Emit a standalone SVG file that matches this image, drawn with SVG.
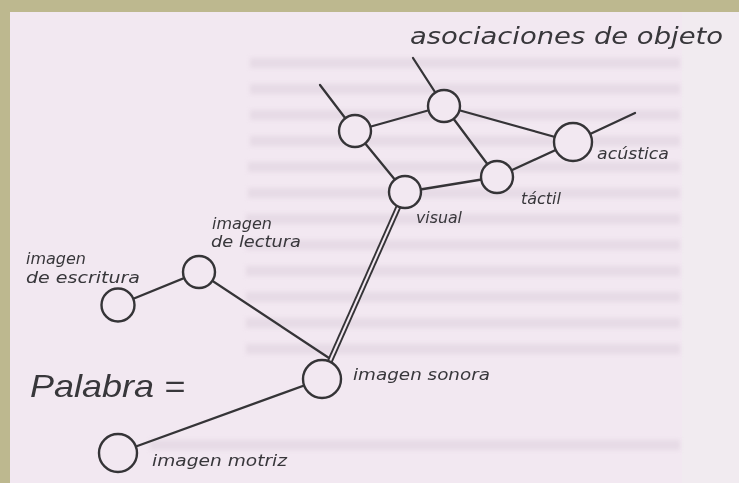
<svg xmlns="http://www.w3.org/2000/svg" width="739" height="483" viewBox="0 0 739 483">
<defs>
<style>
.edge{stroke:#353437;stroke-width:2.3;fill:none;stroke-linecap:round}
.node circle{fill:#f2e8f1;stroke:#353437;stroke-width:2.4}
.lbl{font-family:"DejaVu Sans","Liberation Sans",sans-serif;font-style:oblique;fill:#38373b;font-size:15px}
.band{fill:#d9cdd9;opacity:0.45}
</style>
<filter id="blur" x="-5%" y="-50%" width="110%" height="200%"><feGaussianBlur stdDeviation="2"/></filter>
</defs>
<rect x="0" y="0" width="739" height="483" fill="#bdb88f"/>
<rect x="10" y="12" width="729" height="471" fill="#f2e8f1"/>
<rect x="682" y="12" width="57" height="471" fill="#f1ebf0"/>
<g id="page-texture" filter="url(#blur)">
<rect class="band" x="250" y="58" width="430" height="10"/>
<rect class="band" x="250" y="84" width="430" height="10"/>
<rect class="band" x="250" y="110" width="430" height="10"/>
<rect class="band" x="250" y="136" width="430" height="10"/>
<rect class="band" x="248" y="162" width="432" height="10"/>
<rect class="band" x="248" y="188" width="432" height="10"/>
<rect class="band" x="246" y="214" width="434" height="10"/>
<rect class="band" x="246" y="240" width="434" height="10"/>
<rect class="band" x="246" y="266" width="434" height="10"/>
<rect class="band" x="246" y="292" width="434" height="10"/>
<rect class="band" x="246" y="318" width="434" height="10"/>
<rect class="band" x="246" y="344" width="434" height="10"/>
<rect class="band" x="150" y="440" width="530" height="10"/>
</g>
<g id="connectors">
<line class="edge" x1="320" y1="85" x2="355" y2="131"/>
<line class="edge" x1="413" y1="58" x2="444" y2="106"/>
<line class="edge" x1="635" y1="113" x2="573" y2="142"/>
<line class="edge" x1="355" y1="131" x2="444" y2="106"/>
<line class="edge" x1="355" y1="131" x2="405" y2="192"/>
<line class="edge" x1="444" y1="106" x2="497" y2="177"/>
<line class="edge" x1="444" y1="106" x2="573" y2="142"/>
<line class="edge" x1="405" y1="192" x2="497" y2="177"/>
<line class="edge" x1="497" y1="177" x2="573" y2="142"/>
<line x1="405" y1="192" x2="322" y2="379" stroke="#353437" stroke-width="5.8"/>
<line x1="405" y1="192" x2="322" y2="379" stroke="#f2e8f1" stroke-width="2"/>
<line class="edge" x1="199" y1="272" x2="329" y2="358"/>
<line class="edge" x1="118" y1="305" x2="199" y2="272"/>
<line class="edge" x1="322" y1="379" x2="118" y2="453"/>
</g>
<g id="node-objeto-1" class="node"><circle cx="355" cy="131" r="16"/></g>
<g id="node-objeto-2" class="node"><circle cx="444" cy="106" r="16"/></g>
<g id="node-visual" class="node"><circle cx="405" cy="192" r="16"/><text class="lbl" x="416" y="223" textLength="46" lengthAdjust="spacingAndGlyphs">visual</text></g>
<g id="node-tactil" class="node"><circle cx="497" cy="177" r="16"/><text class="lbl" x="521" y="204" textLength="40" lengthAdjust="spacingAndGlyphs">táctil</text></g>
<g id="node-acustica" class="node"><circle cx="573" cy="142" r="19"/><text class="lbl" x="597" y="159" textLength="72" lengthAdjust="spacingAndGlyphs">acústica</text></g>
<g id="node-lectura" class="node"><circle cx="199" cy="272" r="16"/><text class="lbl" x="212" y="229" textLength="60" lengthAdjust="spacingAndGlyphs">imagen</text><text class="lbl" x="211" y="247" textLength="90" lengthAdjust="spacingAndGlyphs">de lectura</text></g>
<g id="node-escritura" class="node"><circle cx="118" cy="305" r="16.5"/><text class="lbl" x="26" y="264" textLength="60" lengthAdjust="spacingAndGlyphs">imagen</text><text class="lbl" x="26" y="283" textLength="114" lengthAdjust="spacingAndGlyphs">de escritura</text></g>
<g id="node-sonora" class="node"><circle cx="322" cy="379" r="19"/><text class="lbl" x="353" y="380" textLength="137" lengthAdjust="spacingAndGlyphs">imagen sonora</text></g>
<g id="node-motriz" class="node"><circle cx="118" cy="453" r="19"/><text class="lbl" x="152" y="466" textLength="135" lengthAdjust="spacingAndGlyphs">imagen motriz</text></g>
<g id="title">
<text class="lbl" x="410" y="44" style="font-size:23px" textLength="313" lengthAdjust="spacingAndGlyphs">asociaciones de objeto</text>
<text class="lbl" x="30" y="397" style="font-size:32px;font-family:'Liberation Sans',sans-serif;font-style:italic" textLength="155" lengthAdjust="spacingAndGlyphs">Palabra =</text>
</g>
</svg>
